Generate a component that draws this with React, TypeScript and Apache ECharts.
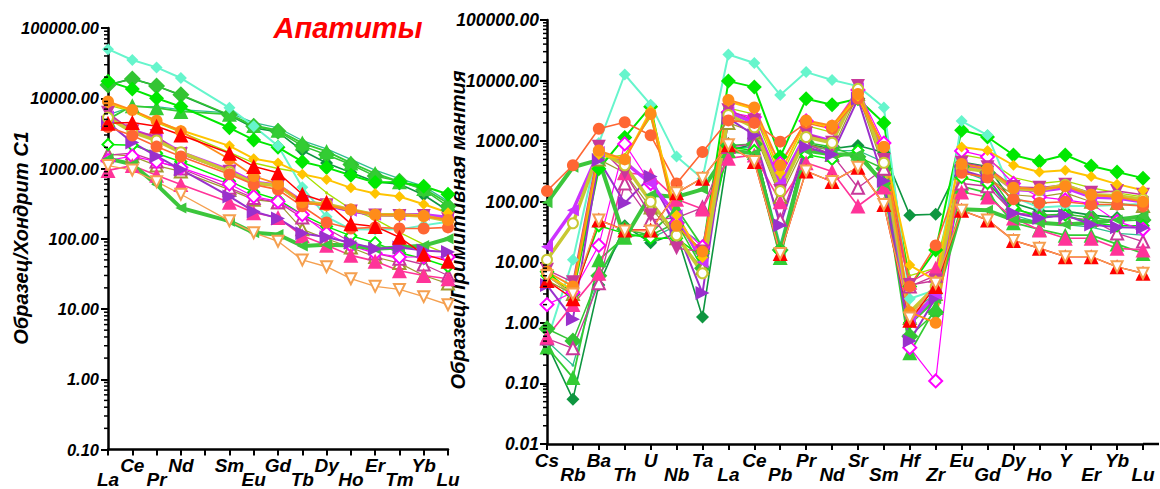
import React, { useEffect, useRef } from "react";
import * as echarts from "echarts";

const FONT = '"Liberation Sans", Arial, sans-serif';

// Categories
const reeCats = ["La", "Ce", "Pr", "Nd", "", "Sm", "Eu", "Gd", "Tb", "Dy", "Ho", "Er", "Tm", "Yb", "Lu"];
const spiderCats = ["Cs", "Rb", "Ba", "Th", "U", "Nb", "Ta", "La", "Ce", "Pb", "Pr", "Nd", "Sr", "Sm", "Hf", "Zr", "Eu", "Gd", "Dy", "Ho", "Y", "Er", "Yb", "Lu"];

// Chondrite-normalised (La..Lu without Pm) and primitive-mantle-normalised values per sample
const aquaL = [50000, 35000, 27500, 19400, 7300, 4000, 2100, 540, 205, 136, 135, 136, 155, 175];
const aquaR = [0.5, 11, 930, 12600, 4000, 560, 240, 27000, 19500, 5800, 13800, 10200, 8100, 3600, 2.5, 3.5, 2150, 1260, 120, 80, 85, 85, 88, 92];
const bgreenL = [17500, 13500, 10000, 7600, 3800, 2550, 2000, 1250, 1030, 800, 630, 640, 560, 430];
const bgreenR = [7, 3, 350, 1150, 3700, 40, 15, 9800, 7800, 550, 5000, 4000, 5000, 2000, 4, 16, 1520, 1170, 590, 460, 590, 390, 310, 245];
const lgreenL = [15500, 18800, 15000, 11200, 5800, 4000, 3400, 2100, 1570, 1140, 780, 660, 500, 290];
const lgreenR = [0.8, 0.5, 6, 35, 28, 45, 8, 850, 900, 16, 950, 800, 550, 350, 0.6, 1.5, 380, 300, 75, 60, 62, 55, 48, 50];
const dgreenL = [15500, 19000, 15000, 11000, 5700, 3800, 3300, 1800, 1200, 880, 650, 600, 420, 250];
const dgreenR = [0.45, 0.055, 4.2, 40, 21, 30, 1.25, 700, 900, 15, 900, 750, 850, 650, 60, 62, 450, 380, 95, 70, 70, 60, 55, 55];
const tealL = [5800, 7600, 7600, 6900, 6200, 4500, 3800, 2500, 1900, 1350, 950, 720, 560, 340];
const tealR = [0.5, 0.2, 6, 30, 25, 40, 20, 750, 800, 20, 850, 700, 700, 450, 1.5, 3, 320, 220, 60, 45, 42, 38, 30, 28];
const gtriL = [5000, 7800, 7300, 6500, 5900, 4100, 3500, 2300, 1750, 1200, 850, 650, 520, 320];
const gtriR = [0.4, 0.125, 11, 26, 30, 78, 18, 700, 650, 12, 700, 600, 630, 200, 0.32, 1.8, 180, 140, 45, 35, 28, 28, 20, 14];
const goldL = [8500, 6700, 4600, 3500, 2100, 1380, 1200, 830, 700, 530, 440, 400, 310, 235];
const goldR = [6, 3.5, 600, 500, 3200, 60, 12, 4500, 3400, 300, 2100, 1700, 5500, 800, 9, 5, 800, 700, 400, 310, 330, 260, 195, 155];
const orangeL = [9000, 6800, 4800, 3400, 1350, 780, 600, 330, 300, 260, 220, 220, 210, 185];
const orangeR = [7, 4, 700, 500, 2800, 40, 15, 4800, 3600, 400, 2200, 1800, 6000, 800, 1.5, 1.0, 420, 350, 170, 160, 180, 130, 120, 100];
const tomatoL = [3900, 2950, 2050, 1480, 830, 590, 500, 290, 170, 140, 145, 140, 140, 145];
const tomatoR = [150, 400, 1600, 2050, 1250, 200, 660, 2200, 2000, 980, 2000, 1600, 5000, 800, 4, 19, 300, 250, 110, 95, 100, 90, 90, 85];
const redL = [4400, 4500, 4000, 3000, 1650, 1070, 870, 430, 330, 163, 150, 105, 60, 48];
const redR = [5, 2.5, 50, 34, 34, 140, 245, 870, 460, 14, 320, 215, 370, 90, 1.1, 4, 72, 50, 23, 17, 12.4, 12.4, 8.4, 6.6];
const salmonL = [1100, 950, 650, 430, 180, 122, 92, 50, 40, 27, 21, 19, 15, 11.5];
const salmonR = [6, 3, 50, 33, 33, 140, 245, 870, 460, 14, 320, 215, 370, 90, 1.2, 4.5, 72, 50, 23, 17, 12.4, 12.4, 8.4, 6.6];
const mvdL = [6200, 3400, 2900, 1600, 900, 620, 560, 320, 300, 245, 215, 210, 210, 190];
const mvdR = [7.5, 4.7, 810, 300, 60, 17, 15, 3250, 2200, 150, 1350, 940, 8100, 490, 4.2, 5, 440, 370, 175, 170, 190, 140, 150, 130];
const oliveL = [5300, 3300, 2500, 1700, 900, 620, 570, 330, 310, 260, 220, 220, 210, 180];
const oliveR = [11, 44, 680, 400, 100, 28, 6.6, 2700, 1700, 150, 1170, 940, 7300, 440, 1.5, 4, 360, 315, 167, 155, 190, 130, 125, 110];
const violetL = [5500, 3500, 2700, 1700, 950, 640, 580, 340, 300, 250, 220, 220, 220, 200];
const violetR = [18, 72, 660, 450, 200, 60, 10, 3000, 2000, 200, 1300, 1000, 7500, 500, 1, 3, 400, 330, 160, 150, 170, 120, 115, 100];
const purpleL = [4500, 2350, 1500, 970, 400, 245, 195, 120, 105, 88, 72, 75, 68, 65];
const purpleR = [4.2, 1.15, 490, 95, 260, 35, 3.1, 2400, 1250, 41, 800, 600, 5000, 220, 0.5, 2.6, 330, 250, 65, 54, 60, 42, 38, 37];
const gleftL = [1380, 1150, 590, 275, 178, 122, 115, 79, 82, 80, 72, 75, 80, 100];
const gleftR = [96, 370, 490, 25, 130, 120, 160, 700, 630, 14, 700, 600, 600, 200, 1, 2.5, 75, 72, 50, 45, 42, 45, 50, 58];
const gdiaL = [2200, 2150, 1650, 1250, 660, 460, 360, 220, 150, 110, 88, 63, 52, 40];
const gdiaR = [6, 3, 40, 30, 25, 25, 12, 800, 700, 15, 600, 500, 700, 200, 1, 3, 250, 200, 80, 55, 60, 45, 40, 40];
const mvtL = [1550, 1650, 1260, 1000, 530, 380, 330, 200, 140, 90, 62, 52, 43, 30];
const mvtR = [0.55, 0.38, 4.5, 200, 50, 54, 80, 800, 900, 50, 900, 600, 170, 350, 4, 6, 200, 180, 65, 60, 55, 50, 30, 22];
const otriL = [1600, 1500, 1100, 910, 500, 360, 330, 136, 100, 75, 55, 45, 30, 23];
const otriR = [5, 3, 500, 300, 80, 25, 8, 2000, 1400, 120, 900, 700, 6000, 350, 1.2, 3, 300, 250, 130, 120, 140, 100, 95, 85];
const pinkL = [940, 1100, 800, 590, 330, 235, 200, 110, 81, 58, 48, 35, 30, 27];
const pinkR = [0.59, 2.0, 6.6, 300, 275, 110, 76, 520, 590, 100, 440, 315, 85, 175, 4.7, 8, 145, 120, 54, 34, 25, 25, 17, 16];
const magL = [1300, 1500, 1250, 1030, 600, 400, 340, 220, 120, 80, 62, 55, 55, 55];
const magR = [2.0, 3.2, 19, 900, 200, 44, 18, 3000, 2500, 430, 2150, 1700, 7000, 930, 0.39, 0.11, 690, 550, 200, 120, 107, 93, 47, 35];
const ygL = [8000, 6500, 4500, 3300, 1700, 1200, 1000, 870, 450, 265, 190, 123, 83, 60];
const ygR = [5, 3, 500, 600, 2500, 50, 10, 3500, 2800, 250, 1800, 1400, 5000, 700, 6, 8, 600, 500, 250, 200, 220, 170, 140, 120];

type Spec = {
  name: string; color: string; symbol: string; rotate?: number; size: number; width: number;
  L: number[]; R: number[];
};

const specs: Spec[] = [
  { name: "teal", color: "#2FBF8F", symbol: "circle", size: 3, width: 1.3, L: tealL, R: tealR },
  { name: "yg", color: "#A8E000", symbol: "circle", size: 3, width: 1.3, L: ygL, R: ygR },
  { name: "dgreen", color: "#0E9640", symbol: "diamond", size: 13, width: 1.6, L: dgreenL, R: dgreenR },
  { name: "lgreen", color: "#33C433", symbol: "diamond", size: 17, width: 1.5, L: lgreenL, R: lgreenR },
  { name: "gtri", color: "#33CC33", symbol: "triangle", size: 15, width: 1.8, L: gtriL, R: gtriR },
  { name: "bgreen", color: "#00E800", symbol: "diamond", size: 15, width: 2, L: bgreenL, R: bgreenR },
  { name: "aqua", color: "#66F5CC", symbol: "diamond", size: 12, width: 2, L: aquaL, R: aquaR },
  { name: "otri", color: "#A09A30", symbol: "emptyTriangle", size: 12, width: 1.2, L: otriL, R: otriR },
  { name: "mvt", color: "#C8389A", symbol: "emptyTriangle", size: 12, width: 1.3, L: mvtL, R: mvtR },
  { name: "gdia", color: "#00F000", symbol: "emptyDiamond", size: 11, width: 1.5, L: gdiaL, R: gdiaR },
  { name: "mag", color: "#FF00FF", symbol: "emptyDiamond", size: 13, width: 1.2, L: magL, R: magR },
  { name: "pink", color: "#FF3399", symbol: "triangle", size: 15, width: 1.6, L: pinkL, R: pinkR },
  { name: "gleft", color: "#3CC63C", symbol: "triangle", rotate: 90, size: 11, width: 4, L: gleftL, R: gleftR },
  { name: "purple", color: "#9A30CC", symbol: "triangle", rotate: -90, size: 14, width: 2, L: purpleL, R: purpleR },
  { name: "violet", color: "#CC33FF", symbol: "triangle", rotate: 90, size: 12, width: 3.5, L: violetL, R: violetR },
  { name: "mvd", color: "#C8389A", symbol: "triangle", rotate: 180, size: 14, width: 1.5, L: mvdL, R: mvdR },
  { name: "olive", color: "#C8C832", symbol: "emptyCircle", size: 10, width: 3.5, L: oliveL, R: oliveR },
  { name: "tomato", color: "#FF6633", symbol: "circle", size: 12, width: 1.6, L: tomatoL, R: tomatoR },
  { name: "gold", color: "#FFC400", symbol: "diamond", size: 11, width: 2, L: goldL, R: goldR },
  { name: "orange", color: "#FF8C1A", symbol: "circle", size: 12, width: 1.8, L: orangeL, R: orangeR },
  { name: "red", color: "#FF0000", symbol: "triangle", size: 15, width: 1.5, L: redL, R: redR },
  { name: "salmon", color: "#F5A050", symbol: "emptyTriangle", rotate: 180, size: 11, width: 1.4, L: salmonL, R: salmonR },
];

const minorValues = (lo: number, hi: number) => {
  const out: number[][] = [];
  for (let e = lo; e < hi; e++) {
    for (let m = 2; m <= 9; m++) out.push([0, m * Math.pow(10, e)]);
  }
  return out;
};

const labelFont = { fontFamily: FONT, fontWeight: "bold" as const, fontStyle: "italic" as const, color: "#000" };

export default function App() {
  const ref = useRef<HTMLDivElement>(null);
  useEffect(() => {
    if (!ref.current) return;
    const chart = echarts.init(ref.current, null, { renderer: "svg" });

    const xLabel = (evenLow: boolean) => ({
      interval: 0,
      margin: 6,
      formatter: (v: string, i: number) => {
        const low = evenLow ? i % 2 === 0 : i % 2 === 1;
        return low ? `{lo|${v}}` : `{hi|${v}}`;
      },
      rich: {
        hi: { ...labelFont, fontSize: 19, lineHeight: 20 },
        lo: { ...labelFont, fontSize: 19, lineHeight: 20, padding: [28, 0, 0, 0] },
      },
    });

    const axisLine = { show: true, onZero: false, lineStyle: { color: "#000", width: 2.5 } };
    const axisTick = { show: true, length: 6, lineStyle: { color: "#000", width: 2 } };

    const series: any[] = [];
    specs.forEach((s) => {
      const common = {
        type: "line",
        name: s.name,
        symbol: s.symbol,
        symbolSize: s.size,
        symbolRotate: s.rotate || 0,
        showAllSymbol: true,
        connectNulls: true,
        lineStyle: { color: s.color, width: s.width },
        itemStyle: { color: s.color, borderColor: s.color, borderWidth: s.symbol.startsWith("empty") ? 1.6 : 0 },
        emphasis: { disabled: true },
        silent: true,
      };
      const leftData = [...s.L.slice(0, 4), null, ...s.L.slice(4)];
      series.push({ ...common, xAxisIndex: 0, yAxisIndex: 0, data: leftData });
      series.push({ ...common, xAxisIndex: 1, yAxisIndex: 1, data: s.R });
    });

    const minorRender = (params: any, api: any) => {
      const p = api.coord([0, api.value(1)]);
      return {
        type: "line",
        shape: { x1: p[0] - 4, y1: p[1], x2: p[0], y2: p[1] },
        style: { stroke: "#000", lineWidth: 1.5 },
      };
    };
    series.push({
      type: "custom", xAxisIndex: 0, yAxisIndex: 0, renderItem: minorRender,
      data: minorValues(-1, 5), clip: false, silent: true, z: 10,
    });
    series.push({
      type: "custom", xAxisIndex: 1, yAxisIndex: 1, renderItem: minorRender,
      data: minorValues(-2, 5), clip: false, silent: true, z: 10,
    });

    chart.setOption({
      animation: false,
      backgroundColor: "#fff",
      grid: [
        { left: 108, top: 28, width: 340, height: 423 },
        { left: 547, top: 20, width: 596, height: 424 },
      ],
      xAxis: [
        {
          type: "category", gridIndex: 0, data: reeCats, boundaryGap: false,
          axisLine, axisTick: { ...axisTick, interval: 0 }, axisLabel: xLabel(true), splitLine: { show: false },
        },
        {
          type: "category", gridIndex: 1, data: spiderCats, boundaryGap: false,
          axisLine, axisTick: { ...axisTick, interval: 0 }, axisLabel: xLabel(false), splitLine: { show: false },
        },
      ],
      yAxis: [
        {
          type: "log", logBase: 10, gridIndex: 0, min: 0.1, max: 100000,
          axisLine, axisTick: { ...axisTick, length: 7 }, splitLine: { show: false },
          axisLabel: { ...labelFont, fontSize: 16.5, margin: 9, formatter: (v: number) => Number(v).toFixed(2) },
        },
        {
          type: "log", logBase: 10, gridIndex: 1, min: 0.01, max: 100000,
          axisLine, axisTick: { ...axisTick, length: 7 }, splitLine: { show: false },
          axisLabel: { ...labelFont, fontSize: 17.5, margin: 8, formatter: (v: number) => Number(v).toFixed(2) },
        },
      ],
      graphic: [
        {
          type: "text", x: 348, y: 28,
          style: { text: "Апатиты", fill: "#FF0000", font: `italic bold 29px ${FONT}`, textAlign: "center", textVerticalAlign: "middle" },
        },
        {
          type: "text", x: 21, y: 238, rotation: Math.PI / 2,
          style: { text: "Образец/Хондрит С1", fill: "#000", font: `italic bold 20px ${FONT}`, textAlign: "center", textVerticalAlign: "middle" },
        },
        {
          type: "text", x: 458, y: 230, rotation: Math.PI / 2,
          style: { text: "Образец/Примитивная мантия", fill: "#000", font: `italic bold 20px ${FONT}`, textAlign: "center", textVerticalAlign: "middle" },
        },
        {
          type: "line", shape: { x1: 1143, y1: 444, x2: 1159, y2: 444 },
          style: { stroke: "#000", lineWidth: 2.5 },
        },
      ],
      series,
    });
    return () => chart.dispose();
  }, []);
  return <div ref={ref} style={{ position: "absolute", left: 0, top: 0, width: 1160, height: 489 }} />;
}
